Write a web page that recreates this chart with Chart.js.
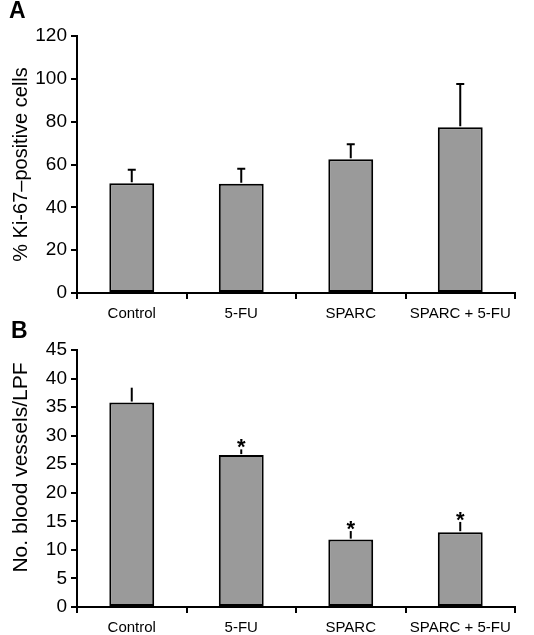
<!DOCTYPE html>
<html>
<head>
<meta charset="utf-8">
<script src="https://cdn.jsdelivr.net/npm/chart.js@4.4.1/dist/chart.umd.min.js"></script>
<style>
  html, body { margin: 0; padding: 0; background: #fff; }
  #wrap { position: relative; width: 534px; height: 635px; }
  .panel { position: absolute; left: 0; width: 534px; }
  .letter { position: absolute; font: bold 23px "Liberation Sans", Arial, sans-serif; color: #000; }
</style>
</head>
<body>
<div id="wrap">
  <div class="panel" style="top:0;height:320px"><canvas id="chartA"></canvas></div>
  <div class="panel" style="top:320px;height:315px"><canvas id="chartB"></canvas></div>
  <div class="letter" style="left:9px;top:-3px">A</div>
  <div class="letter" style="left:11px;top:317px">B</div>
</div>
<script>
const categories = ['Control', '5-FU', 'SPARC', 'SPARC + 5-FU'];

// panel A: % Ki-67-positive cells
const ki67Mean = [51.3, 51.0, 62.5, 77.4];
const ki67Err = [6.2, 7.0, 7.0, 20.2];
const ki67Ticks = { min: 0, max: 120, step: 20 };

// panel B: blood vessels per LPF
const vesselMean = [35.8, 26.6, 11.8, 13.1];
const vesselErr = [2.6, 1.0, 1.5, 1.8];
const vesselStar = [false, true, true, true];
const vesselTicks = { min: 0, max: 45, step: 5 };

const FONT = '"Liberation Sans", Arial, Helvetica, sans-serif';

// upper error bars + significance stars
const errorBars = {
    id: 'errorBars',
    afterDatasetsDraw(chart, args, opts) {
        const ctx = chart.ctx;
        const y = chart.scales.y;
        const meta = chart.getDatasetMeta(0);
        ctx.save();
        ctx.strokeStyle = '#000';
        ctx.lineWidth = 2;
        meta.data.forEach((bar, i) => {
            const top = y.getPixelForValue(opts.mean[i]);
            const hi = y.getPixelForValue(opts.mean[i] + opts.err[i]);
            ctx.beginPath();
            ctx.moveTo(bar.x, top - 1);
            ctx.lineTo(bar.x, hi);
            if (opts.cap) {
                ctx.moveTo(bar.x - opts.cap / 2, hi);
                ctx.lineTo(bar.x + opts.cap / 2, hi);
            }
            ctx.stroke();
            if (opts.stars && opts.stars[i]) {
                ctx.fillStyle = '#000';
                ctx.font = 'bold 22px ' + FONT;
                ctx.textAlign = 'center';
                ctx.textBaseline = 'alphabetic';
                ctx.fillText('*', bar.x, hi + 5);
            }
        });
        ctx.restore();
    }
};

// rotated y-axis title, placed by hand
const sideTitle = {
    id: 'sideTitle',
    afterDraw(chart, args, opts) {
        const ctx = chart.ctx;
        const a = chart.chartArea;
        ctx.save();
        ctx.translate(opts.x, (a.top + a.bottom) / 2 + opts.dy);
        ctx.rotate(-Math.PI / 2);
        ctx.fillStyle = '#000';
        ctx.font = opts.size + 'px ' + FONT;
        ctx.textAlign = 'center';
        ctx.textBaseline = 'middle';
        ctx.fillText(opts.text, 0, 0);
        ctx.restore();
    }
};

function makeChart(id, mean, err, stars, ticks, title, cfg) {
    new Chart(document.getElementById(id), {
        type: 'bar',
        data: {
            labels: categories,
            datasets: [{
                data: mean,
                backgroundColor: '#9a9a9a',
                borderColor: '#000',
                borderWidth: 2,
                borderSkipped: false,
                barPercentage: 0.41,
                categoryPercentage: 1
            }]
        },
        options: {
            responsive: true,
            maintainAspectRatio: false,
            animation: false,
            layout: { padding: { top: cfg.padTop, right: 19, left: 0, bottom: 0 } },
            plugins: {
                legend: { display: false },
                tooltip: { enabled: false },
                errorBars: { mean: mean, err: err, stars: stars, cap: cfg.cap },
                sideTitle: { text: title, x: 21, dy: cfg.titleDy, size: cfg.titleSize }
            },
            scales: {
                x: {
                    afterFit: s => { s.height = cfg.xHeight; },
                    grid: { display: true, drawOnChartArea: false, color: '#000', lineWidth: 2, tickLength: 6, offset: true },
                    border: { display: true, color: '#000', width: 2 },
                    ticks: { color: '#000', font: { family: FONT, size: 15 }, padding: 6, maxRotation: 0, autoSkip: false }
                },
                y: {
                    min: ticks.min,
                    max: ticks.max,
                    afterFit: s => { s.width = 77; },
                    grid: { display: true, drawOnChartArea: false, color: '#000', lineWidth: 2, tickLength: 6 },
                    border: { display: true, color: '#000', width: 2 },
                    ticks: { stepSize: ticks.step, color: '#000', font: { family: FONT, size: 19 }, padding: 4 }
                }
            }
        },
        plugins: [errorBars, sideTitle]
    });
}

makeChart('chartA', ki67Mean, ki67Err, null, ki67Ticks, '% Ki-67\u2013positive cells',
    { padTop: 36, xHeight: 27, cap: 8, titleDy: 0, titleSize: 20 });
makeChart('chartB', vesselMean, vesselErr, vesselStar, vesselTicks, 'No. blood vessels/LPF',
    { padTop: 30, xHeight: 28, cap: 0, titleDy: -11, titleSize: 21 });
</script>
</body>
</html>
